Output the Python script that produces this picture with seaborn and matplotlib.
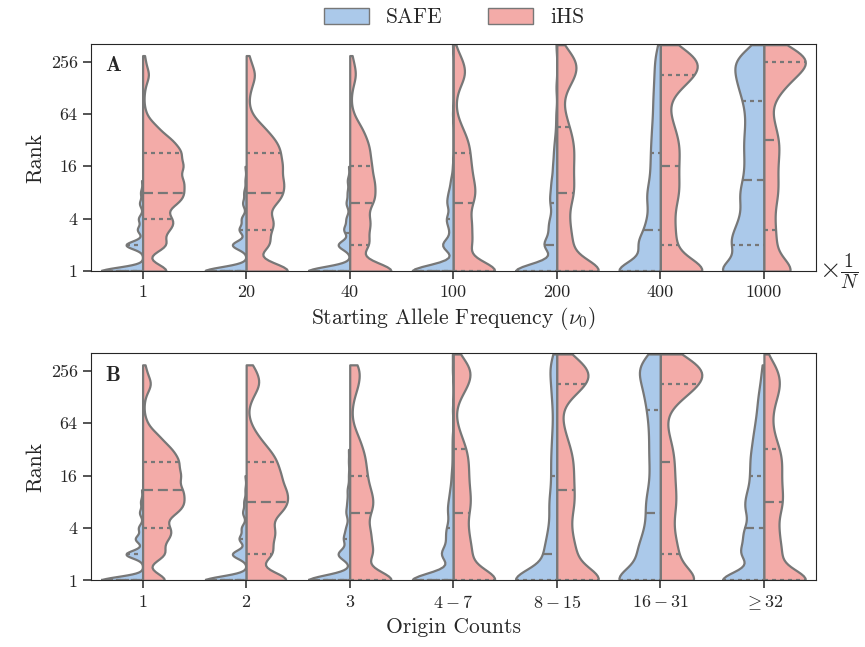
import numpy as np
import pandas as pd
import matplotlib.pyplot as plt
from matplotlib.patches import Patch
import seaborn as sns


# Rank values the counts below refer to (one count per rank, per violin)
rank_grid = [1, 2, 3, 4, 6, 8, 11, 16, 23, 32, 45, 64, 91, 128, 181, 256, 300, 400]

freq_labels = ['1', '20', '40', '100', '200', '400', '1000']
origin_labels = ['$1$', '$2$', '$3$', '$4-7$', '$8-15$', '$16-31$', r'$\geq 32$']

# Panel A: starting allele frequency
safe_freq = [
    [40, 16, 5, 4, 3, 2, 1, 0, 0, 0, 0, 0, 0, 0, 0, 0, 0, 0],
    [36, 12, 6, 4, 3, 2, 1, 1, 0, 0, 0, 0, 0, 0, 0, 0, 0, 0],
    [36, 10, 5, 3, 3, 2, 2, 1, 0, 0, 0, 0, 0, 0, 0, 0, 0, 0],
    [55, 14, 4, 8, 7, 5, 3, 1, 0, 0, 0, 1, 0, 0, 0, 0, 0, 1],
    [52, 15, 7, 6, 6, 5, 5, 4, 3, 2, 1, 1, 0, 1, 0, 0, 0, 1],
    [74, 32, 13, 12, 12, 11, 10, 10, 9, 8, 8, 7, 7, 6, 6, 4, 3, 2],
    [80, 47, 24, 22, 21, 20, 19, 19, 18, 18, 17, 17, 19, 23, 27, 23, 16, 6],
]
ihs_freq = [
    [32, 28, 24, 28, 31, 35, 39, 42, 38, 28, 14, 3, 1, 2, 7, 2, 1, 0],
    [70, 32, 25, 27, 29, 34, 39, 41, 36, 30, 19, 5, 2, 5, 11, 4, 1, 0],
    [85, 32, 22, 24, 28, 26, 31, 29, 25, 21, 15, 4, 1, 3, 9, 4, 1, 0],
    [82, 27, 17, 18, 19, 20, 21, 20, 17, 15, 9, 3, 2, 5, 15, 9, 3, 1],
    [100, 25, 13, 13, 14, 17, 18, 19, 19, 17, 14, 9, 5, 10, 24, 20, 10, 4],
    [92, 21, 12, 13, 14, 16, 17, 18, 18, 17, 13, 9, 5, 17, 38, 34, 21, 9],
    [48, 14, 8, 8, 9, 10, 11, 11, 12, 12, 9, 6, 4, 18, 22, 38, 24, 9],
]

# Panel B: origin counts
safe_origin = [
    [40, 16, 7, 4, 3, 2, 1, 0, 0, 0, 0, 0, 0, 0, 0, 0, 0, 0],
    [36, 12, 6, 4, 3, 2, 1, 1, 0, 0, 0, 0, 0, 0, 0, 0, 0, 0],
    [36, 10, 5, 3, 3, 2, 2, 1, 1, 1, 0, 0, 0, 0, 0, 0, 0, 0],
    [52, 14, 6, 6, 5, 4, 3, 2, 1, 1, 1, 0, 1, 0, 0, 1, 0, 1],
    [84, 19, 9, 8, 7, 7, 6, 6, 6, 5, 5, 4, 4, 5, 6, 5, 5, 3],
    [84, 33, 15, 14, 13, 12, 11, 10, 10, 10, 10, 11, 12, 14, 17, 15, 16, 8],
    [72, 33, 19, 19, 17, 17, 16, 15, 14, 12, 11, 9, 7, 6, 4, 2, 1, 0],
]
ihs_origin = [
    [32, 28, 24, 27, 32, 37, 40, 41, 37, 29, 17, 4, 1, 2, 10, 3, 1, 0],
    [66, 35, 25, 27, 32, 36, 40, 37, 31, 22, 12, 4, 1, 6, 15, 10, 1, 0],
    [95, 41, 24, 24, 25, 26, 26, 23, 20, 16, 11, 3, 2, 5, 12, 11, 6, 0],
    [88, 27, 14, 14, 15, 15, 16, 16, 15, 13, 8, 3, 1, 6, 17, 16, 10, 3],
    [92, 28, 13, 13, 14, 15, 16, 17, 16, 13, 9, 5, 3, 8, 37, 26, 19, 8],
    [62, 22, 10, 10, 11, 11, 12, 12, 11, 10, 7, 4, 3, 18, 35, 31, 23, 9],
    [90, 27, 14, 15, 16, 17, 19, 19, 19, 16, 11, 8, 9, 13, 19, 11, 8, 1],
]


def long_table(groups, safe, ihs):
    parts = []
    for g, s, h in zip(groups, safe, ihs):
        for method, counts in (('SAFE', s), ('iHS', h)):
            parts.append(pd.DataFrame({'group': g, 'method': method,
                                       'rank': np.repeat(rank_grid, counts)}))
    df = pd.concat(parts, ignore_index=True)
    df['log_rank'] = np.log2(df['rank'])
    return df


freq_df = long_table(freq_labels, safe_freq, ihs_freq)
origin_df = long_table(origin_labels, safe_origin, ihs_origin)

sns.set_style('ticks')
plt.rcParams['font.family'] = 'cmr10'
plt.rcParams['mathtext.fontset'] = 'cm'
plt.rcParams['axes.unicode_minus'] = False
plt.rcParams['axes.formatter.use_mathtext'] = True

pal = ['#a1c9f4', '#ff9f9b']
edge = '#777777'

fig = plt.figure(figsize=(8.65, 6.47), dpi=100)
ax0 = fig.add_axes([0.105, 0.581, 0.838, 0.351])
ax1 = fig.add_axes([0.105, 0.103, 0.838, 0.351])

panels = [(ax0, freq_df, freq_labels, r'Starting Allele Frequency ($\nu_0$)', 'A'),
          (ax1, origin_df, origin_labels, 'Origin Counts', 'B')]
for ax, df, labels, xlabel, tag in panels:
    sns.violinplot(data=df, x='group', y='log_rank', hue='method',
                   order=labels, hue_order=['SAFE', 'iHS'], split=True,
                   inner='quart', density_norm='width', cut=0,
                   bw_method=0.16, palette=pal, linecolor=edge,
                   linewidth=1.6, legend=False, ax=ax)
    # quartiles dotted, median dashed
    for i, line in enumerate(ax.lines):
        if i % 3 == 1:
            line.set_linestyle((0, (4.5, 2.2)))
        else:
            line.set_linestyle((0, (1.8, 1.8)))
    ax.set_xlim(-0.5, 6.5)
    ax.set_ylim(0, 8.67)
    ax.set_yticks([0, 2, 4, 6, 8])
    ax.set_yticklabels(['1', '4', '16', '64', '256'])
    ax.set_xticks(range(7))
    ax.set_xticklabels(labels)
    ax.tick_params(labelsize=13, length=6, width=1.1)
    ax.set_ylabel('Rank', fontsize=15.5)
    ax.set_xlabel(xlabel, fontsize=15.5)
    ax.text(0.02, 0.945, r'$\mathbf{%s}$' % tag, transform=ax.transAxes,
            fontsize=15, va='top', ha='left')

ax0.text(1.004, 0.0, r'$\times\frac{1}{N}$', transform=ax0.transAxes,
         fontsize=20, va='center', ha='left')

handles = [Patch(facecolor=sns.desaturate(c, 0.75), edgecolor=edge,
                 linewidth=1.0, label=l)
           for c, l in zip(pal, ['SAFE', 'iHS'])]
fig.legend(handles=handles, loc='center', bbox_to_anchor=(0.525, 0.973),
           ncol=2, frameon=False, fontsize=15.5, handlelength=2.1,
           handleheight=0.8, columnspacing=2.1, handletextpad=0.8)

fig.savefig('out.png', dpi=100)
